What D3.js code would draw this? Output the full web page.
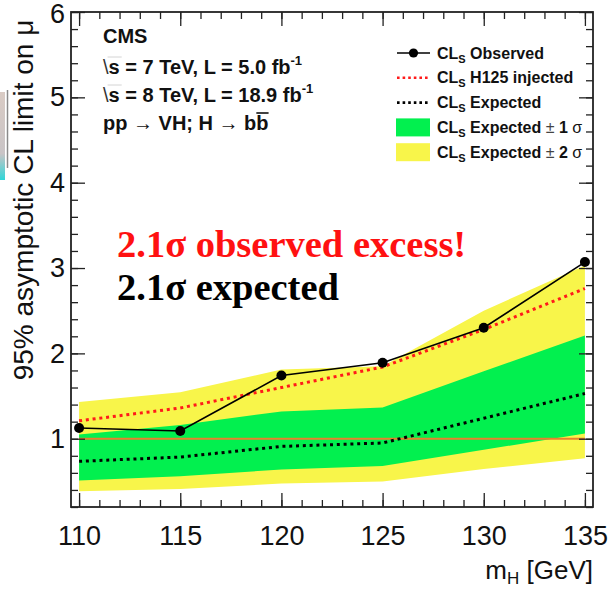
<!DOCTYPE html>
<html>
<head>
<meta charset="utf-8">
<script src="https://cdn.jsdelivr.net/npm/d3@7"></script>
<style>
  html, body { margin: 0; padding: 0; background: #fff; }
  svg { display: block; font-family: "Liberation Sans", Arial, Helvetica, sans-serif; }
</style>
</head>
<body>
<svg id="chart" width="611" height="589"></svg>
<script>
// Higgs mass points (GeV) and the 95% CL asymptotic limits on mu
const masses       = [110, 115, 120, 125, 130, 135];
const observed     = [1.125, 1.09, 1.74, 1.89, 2.30, 3.07];
const injected     = [1.21, 1.36, 1.60, 1.84, 2.28, 2.76];
const expected     = [0.735, 0.785, 0.91, 0.95, 1.24, 1.53];
const oneSigmaLow  = [0.51, 0.56, 0.64, 0.68, 0.87, 1.06];
const oneSigmaHigh = [1.05, 1.16, 1.32, 1.365, 1.79, 2.21];
const twoSigmaLow  = [0.385, 0.41, 0.475, 0.50, 0.645, 0.77];
const twoSigmaHigh = [1.43, 1.545, 1.81, 1.85, 2.50, 3.03];

const xTicks = [110, 115, 120, 125, 130, 135];
const yTicks = [1, 2, 3, 4, 5, 6];
const referenceLevel = 1;

const svg = d3.select("#chart");
const SANS = "'Liberation Sans', Arial, Helvetica, sans-serif";
const SERIF = "'Liberation Serif', 'Times New Roman', Times, serif";

const frame = { left: 71, right: 593, top: 12, bottom: 507 };
const x = d3.scaleLinear().domain([109.6, 135.4]).range([frame.left, frame.right]);
const y = d3.scaleLinear().domain([0.2, 6]).range([frame.bottom, frame.top]);

const colors = {
  yellow: "#f8f54a",
  green: "#02f04f",
  red: "#ff1a1a",
  orange: "#e8802e"
};

// small screen-capture strip at the left edge
const grad = svg.append("defs").append("linearGradient")
  .attr("id", "strip").attr("x1", 0).attr("y1", 0).attr("x2", 0).attr("y2", 1);
grad.append("stop").attr("offset", "0%").attr("stop-color", "#d9cbc4");
grad.append("stop").attr("offset", "70%").attr("stop-color", "#c9c4c6");
grad.append("stop").attr("offset", "100%").attr("stop-color", "#2fd6d8");
svg.append("rect").attr("x", 0).attr("y", 92).attr("width", 5).attr("height", 88)
  .attr("fill", "url(#strip)");
svg.append("line").attr("x1", 7.5).attr("x2", 7.5).attr("y1", 90).attr("y2", 168)
  .attr("stroke", "#8a8a8a").attr("stroke-width", 1.5);

// bands
const rows = masses.map((m, i) => ({
  m, obs: observed[i], inj: injected[i], exp: expected[i],
  lo1: oneSigmaLow[i], hi1: oneSigmaHigh[i], lo2: twoSigmaLow[i], hi2: twoSigmaHigh[i]
}));

const band = (lo, hi) => d3.area().x(d => x(d.m)).y0(d => y(d[lo])).y1(d => y(d[hi]));
svg.append("path").datum(rows).attr("d", band("lo2", "hi2")).attr("fill", colors.yellow);
svg.append("path").datum(rows).attr("d", band("lo1", "hi1")).attr("fill", colors.green);

// mu = 1 reference line
svg.append("line")
  .attr("x1", x(masses[0])).attr("x2", x(masses[masses.length - 1]))
  .attr("y1", y(referenceLevel)).attr("y2", y(referenceLevel))
  .attr("stroke", colors.orange).attr("stroke-width", 2);

const lineOf = key => d3.line().x(d => x(d.m)).y(d => y(d[key]));

svg.append("path").datum(rows).attr("d", lineOf("exp"))
  .attr("fill", "none").attr("stroke", "#000").attr("stroke-width", 3)
  .attr("stroke-dasharray", "3 3.8");
svg.append("path").datum(rows).attr("d", lineOf("inj"))
  .attr("fill", "none").attr("stroke", colors.red).attr("stroke-width", 3)
  .attr("stroke-dasharray", "3 3.8");
svg.append("path").datum(rows).attr("d", lineOf("obs"))
  .attr("fill", "none").attr("stroke", "#000").attr("stroke-width", 1.6);
svg.selectAll("circle.obs").data(rows).enter().append("circle")
  .attr("class", "obs").attr("cx", d => x(d.m)).attr("cy", d => y(d.obs))
  .attr("r", 5).attr("fill", "#000");

// axes: ROOT-style inward ticks on all four sides
const minorX = d3.range(110, 135.5, 1);
const minorY = d3.range(0.2, 6.01, 0.2).map(v => +v.toFixed(1));
const styleAxis = g => {
  g.select(".domain").remove();
  g.selectAll(".tick line").attr("stroke", "#222").attr("stroke-width", 1.3);
};
const styleLabels = g => g.selectAll("text")
  .style("font-family", SANS).style("font-size", "27px").attr("fill", "#111");

svg.append("g").attr("transform", `translate(0,${frame.bottom})`)
  .call(d3.axisBottom(x).tickValues(minorX).tickSize(-7).tickFormat("")).call(styleAxis);
svg.append("g").attr("transform", `translate(0,${frame.bottom})`)
  .call(d3.axisBottom(x).tickValues(xTicks).tickSize(-14).tickPadding(19).tickFormat(d3.format("d")))
  .call(styleAxis).call(styleLabels);

svg.append("g").attr("transform", `translate(0,${frame.top})`)
  .call(d3.axisTop(x).tickValues(minorX).tickSize(-7).tickFormat("")).call(styleAxis);
svg.append("g").attr("transform", `translate(0,${frame.top})`)
  .call(d3.axisTop(x).tickValues(xTicks).tickSize(-14).tickFormat("")).call(styleAxis);

svg.append("g").attr("transform", `translate(${frame.left},0)`)
  .call(d3.axisLeft(y).tickValues(minorY).tickSize(-7).tickFormat("")).call(styleAxis);
const yAxisG = svg.append("g").attr("transform", `translate(${frame.left},0)`)
  .call(d3.axisLeft(y).tickValues(yTicks).tickSize(-14).tickPadding(6).tickFormat(d3.format("d")))
  .call(styleAxis).call(styleLabels);
// keep the top label inside the page
yAxisG.selectAll(".tick").filter(d => d === 6).select("text").attr("dy", "0.4em");

svg.append("g").attr("transform", `translate(${frame.right},0)`)
  .call(d3.axisRight(y).tickValues(minorY).tickSize(-7).tickFormat("")).call(styleAxis);
svg.append("g").attr("transform", `translate(${frame.right},0)`)
  .call(d3.axisRight(y).tickValues(yTicks).tickSize(-14).tickFormat("")).call(styleAxis);

// frame
svg.append("rect")
  .attr("x", frame.left).attr("y", frame.top)
  .attr("width", frame.right - frame.left).attr("height", frame.bottom - frame.top)
  .attr("fill", "none").attr("stroke", "#222").attr("stroke-width", 1.8);

// axis titles
svg.append("text")
  .attr("transform", "translate(33,200) rotate(-90)")
  .attr("text-anchor", "middle").style("font-size", "28px").attr("fill", "#111")
  .text("95% asymptotic CL limit on μ");

const xTitle = svg.append("text")
  .attr("x", frame.right).attr("y", 579).attr("text-anchor", "end")
  .style("font-size", "26px").attr("fill", "#111");
xTitle.append("tspan").text("m");
xTitle.append("tspan").style("font-size", "17px").attr("dy", 5).text("H");
xTitle.append("tspan").attr("dy", -5).text(" [GeV]");

// CMS label block
const info = svg.append("g").attr("font-weight", "bold").attr("fill", "#111");
info.append("text").attr("x", 103).attr("y", 43).style("font-size", "20px").text("CMS");

function energyLine(yPos, energy, lumi) {
  const t = info.append("text").attr("x", 103).attr("y", yPos).style("font-size", "20px");
  t.append("tspan").attr("font-weight", "normal").attr("fill", "#333").text("\\");
  t.append("tspan").text(`s = ${energy} TeV, L = ${lumi} fb`);
  t.append("tspan").style("font-size", "13px").attr("dy", -9).text("-1");
  const sx = 103 + t.node().getSubStringLength(0, 1);
  const sw = t.node().getSubStringLength(1, 1);
  info.append("line")
    .attr("x1", sx - 1).attr("x2", sx + sw + 2)
    .attr("y1", yPos - 17).attr("y2", yPos - 17)
    .attr("stroke", "#d4d4d4").attr("stroke-width", 1);
}
energyLine(74, 7, "5.0");
energyLine(102, 8, "18.9");

const proc = info.append("text").attr("x", 103).attr("y", 130).style("font-size", "20px");
proc.append("tspan").text("pp ");
proc.append("tspan").attr("font-weight", "normal").text("→");
proc.append("tspan").text(" VH; H ");
proc.append("tspan").attr("font-weight", "normal").text("→");
proc.append("tspan").text(" bb");
{
  const n = proc.node().getNumberOfChars();
  const bx = 103 + proc.node().getSubStringLength(0, n - 1);
  const bw = proc.node().getSubStringLength(n - 1, 1);
  info.append("line").attr("x1", bx).attr("x2", bx + bw)
    .attr("y1", 113).attr("y2", 113).attr("stroke", "#111").attr("stroke-width", 1.6);
}

// legend
const legendEntries = [
  { label: "Observed", kind: "obs" },
  { label: "H125 injected", kind: "inj" },
  { label: "Expected", kind: "exp" },
  { label: "Expected", kind: "one", sigma: "1" },
  { label: "Expected", kind: "two", sigma: "2" }
];
const legend = svg.append("g");
legendEntries.forEach((e, i) => {
  const cy = 53 + i * 24.8;
  const g = legend.append("g");
  if (e.kind === "obs") {
    g.append("line").attr("x1", 397).attr("x2", 430).attr("y1", cy).attr("y2", cy)
      .attr("stroke", "#000").attr("stroke-width", 1.6);
    g.append("circle").attr("cx", 413.5).attr("cy", cy).attr("r", 4.6).attr("fill", "#000");
  } else if (e.kind === "inj" || e.kind === "exp") {
    g.append("line").attr("x1", 397).attr("x2", 430).attr("y1", cy).attr("y2", cy)
      .attr("stroke", e.kind === "inj" ? colors.red : "#000").attr("stroke-width", 2.6)
      .attr("stroke-dasharray", "2.6 3");
  } else {
    g.append("rect").attr("x", 396).attr("y", cy - 9).attr("width", 34).attr("height", 18)
      .attr("fill", e.kind === "one" ? colors.green : colors.yellow);
  }
  const t = g.append("text").attr("x", 437).attr("y", cy + 5.5)
    .style("font-size", "16px").attr("font-weight", "bold").attr("fill", "#111");
  t.append("tspan").text("CL");
  t.append("tspan").style("font-size", "11px").attr("dy", 4).text("S");
  t.append("tspan").attr("dy", -4).text(" " + e.label);
  if (e.sigma) {
    t.append("tspan").attr("font-weight", "normal").attr("fill", "#444").text(" ±");
    t.append("tspan").text(" " + e.sigma + " ");
    t.append("tspan").attr("font-weight", "normal").text("σ");
  }
});

// significance annotations
svg.append("text").attr("x", 117).attr("y", 257)
  .style("font-family", SERIF).attr("font-weight", "bold").style("font-size", "38.5px")
  .attr("fill", "#ff1111")
  .text("2.1σ observed excess!");
svg.append("text").attr("x", 117).attr("y", 300)
  .style("font-family", SERIF).attr("font-weight", "bold").style("font-size", "38.5px")
  .attr("fill", "#000")
  .text("2.1σ expected");
</script>
</body>
</html>
